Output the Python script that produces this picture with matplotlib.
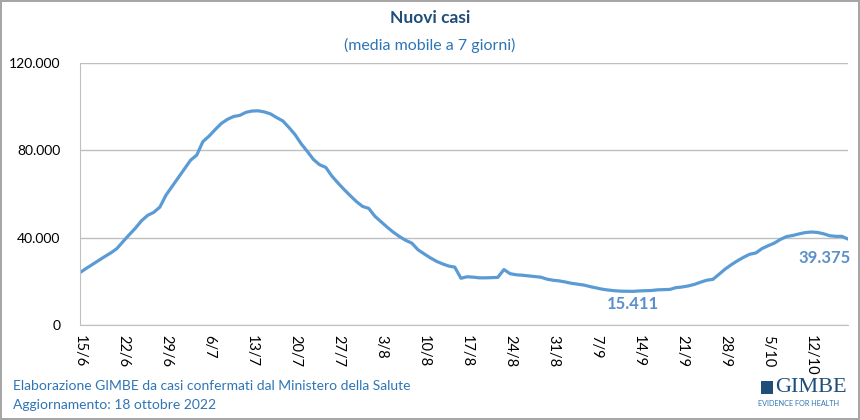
import matplotlib.pyplot as plt
import numpy as np
from matplotlib.ticker import FuncFormatter
from matplotlib.patches import Rectangle
import datetime as dt

# 7-day moving average of new cases, daily from 15/6/2022 (thousands)
start = dt.date(2022, 6, 15)
cases_k = [
    24.0, 25.9, 27.7, 29.5, 31.3, 33.0, 35.0, 38.2, 41.3, 44.3,
    47.7, 50.2, 51.6, 54.0, 59.5, 63.5, 67.5, 71.5, 75.5, 77.8,
    84.0, 86.5, 89.5, 92.3, 94.2, 95.5, 96.0, 97.4, 98.0, 98.1,
    97.6, 96.7, 95.0, 93.5, 90.5, 87.2, 83.0, 79.5, 75.8, 73.4,
    72.2, 68.2, 65.0, 62.0, 59.2, 56.5, 54.3, 53.4, 49.8, 47.3,
    44.8, 42.5, 40.5, 38.8, 37.5, 34.5, 32.6, 30.8, 29.2, 28.0,
    27.0, 26.5, 21.4, 22.1, 21.9, 21.6, 21.6, 21.7, 21.8, 25.4,
    23.5, 23.0, 22.8, 22.5, 22.2, 21.9, 21.0, 20.5, 20.2, 19.7,
    19.1, 18.7, 18.3, 17.6, 17.0, 16.4, 16.0, 15.7, 15.5, 15.45,
    15.411, 15.6, 15.7, 15.8, 16.1, 16.2, 16.3, 17.1, 17.4, 17.9,
    18.6, 19.6, 20.5, 20.9, 23.2, 25.6, 27.6, 29.4, 31.0, 32.4,
    33.0, 35.0, 36.3, 37.5, 39.2, 40.5, 41.0, 41.7, 42.3, 42.6,
    42.4, 41.8, 40.9, 40.6, 40.6, 39.375,
]
cases = np.array(cases_k) * 1000
dates = [start + dt.timedelta(days=i) for i in range(len(cases))]
labels = [f"{d.day}/{d.month}" for d in dates]
yticks = [0, 40000, 80000, 120000]

plt.rcParams['font.family'] = ['Lato', 'DejaVu Sans']

fig = plt.figure(figsize=(8.6, 4.2), dpi=100)
fig.patch.set_edgecolor('#A6A6A6')
fig.patch.set_linewidth(1.5)
ax = fig.add_axes([80 / 860, 1 - 325 / 420, 768 / 860, 262 / 420])

x = np.arange(len(cases))
ax.plot(x, cases, color='#5B9BD5', lw=2.3, solid_joinstyle='round')

ax.set_xlim(0, len(cases) - 1)
ax.set_ylim(0, 120000)
ax.set_yticks(yticks)
ax.yaxis.set_major_formatter(FuncFormatter(lambda v, p: f"{int(v):,}".replace(',', '.')))
ax.grid(axis='y', color='#BFBFBF', lw=1)
ax.set_axisbelow(True)
for s in ['top', 'right']:
    ax.spines[s].set_visible(False)
for s in ['left', 'bottom']:
    ax.spines[s].set_color('#BFBFBF')
ax.tick_params(axis='y', length=0, labelsize=10, pad=14)

tick_idx = x[::7]
ax.set_xticks(tick_idx)
ax.set_xticklabels([labels[i] for i in tick_idx], rotation=270, fontsize=10.5)
ax.tick_params(axis='x', length=0, pad=7)

imin = int(np.argmin(cases))
ax.annotate(f"{cases[imin]:,.0f}".replace(',', '.'), (imin, cases[imin]),
            xytext=(0, -9), textcoords='offset points', ha='center', va='center',
            fontsize=12, fontweight='bold', color='#5B8FCB')
ax.annotate(f"{cases[-1]:,.0f}".replace(',', '.'), (x[-1], cases[-1]),
            xytext=(-17, -14), textcoords='offset points', ha='center', va='center',
            fontsize=12, fontweight='bold', color='#5B8FCB')

fig.text(0.5, 1 - 18 / 420, "Nuovi casi", ha='center', va='center',
         fontsize=12.5, fontweight='bold', color='#1F4E79')
fig.text(0.5, 1 - 45 / 420, "(media mobile a 7 giorni)", ha='center', va='center',
         fontsize=11.5, color='#2E75B6')

fig.text(13 / 860, 1 - 386 / 420, "Elaborazione GIMBE da casi confermati dal Ministero della Salute",
         ha='left', va='center', fontsize=10, color='#2E75B6')
fig.text(13 / 860, 1 - 405 / 420, "Aggiornamento: 18 ottobre 2022",
         ha='left', va='center', fontsize=10, color='#2E75B6')

# GIMBE logo
fig.patches.append(Rectangle((761 / 860, 1 - 394 / 420), 12 / 860, 13 / 420,
                             transform=fig.transFigure, facecolor='#1F4E79',
                             edgecolor='none'))
fig.text(775 / 860, 1 - 387 / 420, "GIMBE", ha='left', va='center', fontsize=16,
         family='Liberation Serif', color='#1F4E79')
fig.text(799 / 860, 1 - 403 / 420, "EVIDENCE FOR HEALTH", ha='center', va='center',
         fontsize=5.2, color='#2E75B6')

fig.savefig('out.png', dpi=100, edgecolor=fig.get_edgecolor())
